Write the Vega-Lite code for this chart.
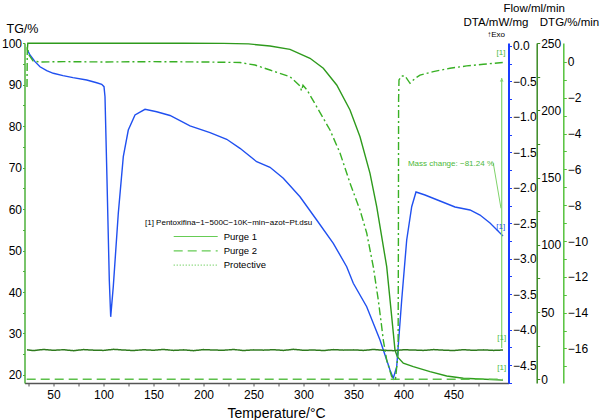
{
"$schema": "https://vega.github.io/schema/vega-lite/v6.json",
"width": 484,
"height": 340,
"autosize": {"type": "none"},
"padding": {"left": 24.5, "top": 43, "right": 91.5, "bottom": 37},
"background": "white",
"config": {
  "view": {"stroke": null},
  "font": "Liberation Sans",
  "axis": {"labelFont": "Liberation Sans", "labelFontSize": 12, "labelColor": "#000", "titleFont": "Liberation Sans", "titleFontSize": 11.5, "titleFontWeight": "normal", "titleColor": "#000", "grid": false, "labelOverlap": false, "tickSize": 3, "labelPadding": 1, "domainWidth": 1.5, "labelFlush": false}
},
"datasets": {
  "tg": [
    {"T": 23.8, "TG": 98.4}, {"T": 24.3, "TG": 100}, {"T": 60, "TG": 100}, {"T": 120, "TG": 100}, {"T": 180, "TG": 100}, {"T": 220, "TG": 99.98}, {"T": 245, "TG": 99.85},
    {"T": 266.5, "TG": 99.35}, {"T": 286.5, "TG": 98.55}, {"T": 306.5, "TG": 96.38}, {"T": 319.8, "TG": 93.97}, {"T": 333.2, "TG": 89.94}, {"T": 346.5, "TG": 83.91},
    {"T": 356.5, "TG": 77.47}, {"T": 366.5, "TG": 68.64}, {"T": 373.2, "TG": 60.59}, {"T": 378.2, "TG": 53.35}, {"T": 383.2, "TG": 46.12}, {"T": 388.2, "TG": 34.06},
    {"T": 391.5, "TG": 26.02}, {"T": 393.8, "TG": 24.41}, {"T": 399.8, "TG": 22.82}, {"T": 409.8, "TG": 22.0}, {"T": 426.5, "TG": 20.79}, {"T": 443.2, "TG": 19.75},
    {"T": 459.8, "TG": 19.2}, {"T": 476.5, "TG": 19.03}, {"T": 499.5, "TG": 18.76}
  ],
  "dta": [
    {"T": 23.8, "DTA": -0.056}, {"T": 26.5, "DTA": -0.127}, {"T": 31.5, "DTA": -0.221}, {"T": 36.5, "DTA": -0.293}, {"T": 43.2, "DTA": -0.348}, {"T": 49.8, "DTA": -0.385},
    {"T": 59.5, "DTA": -0.419}, {"T": 69.5, "DTA": -0.447}, {"T": 83.2, "DTA": -0.48}, {"T": 93.2, "DTA": -0.518}, {"T": 98.2, "DTA": -0.54}, {"T": 100.5, "DTA": -0.574},
    {"T": 101.5, "DTA": -0.715}, {"T": 103.5, "DTA": -1.89}, {"T": 105.8, "DTA": -3.3}, {"T": 107.2, "DTA": -3.82}, {"T": 109.8, "DTA": -3.39}, {"T": 114.8, "DTA": -2.36},
    {"T": 119.8, "DTA": -1.56}, {"T": 124.8, "DTA": -1.185}, {"T": 131.5, "DTA": -0.973}, {"T": 141.5, "DTA": -0.893}, {"T": 153.2, "DTA": -0.927}, {"T": 166.5, "DTA": -0.98},
    {"T": 186.5, "DTA": -1.128}, {"T": 206.5, "DTA": -1.223}, {"T": 223.2, "DTA": -1.316}, {"T": 236.5, "DTA": -1.443}, {"T": 253.2, "DTA": -1.632}, {"T": 266.5, "DTA": -1.711},
    {"T": 279.8, "DTA": -1.866}, {"T": 296.5, "DTA": -2.126}, {"T": 313.2, "DTA": -2.454}, {"T": 329.8, "DTA": -2.783}, {"T": 343.2, "DTA": -3.113}, {"T": 349.8, "DTA": -3.347},
    {"T": 363.2, "DTA": -3.677}, {"T": 376.5, "DTA": -4.147}, {"T": 386.5, "DTA": -4.57}, {"T": 389.8, "DTA": -4.687}, {"T": 393.2, "DTA": -4.523}, {"T": 398.2, "DTA": -3.583},
    {"T": 403.2, "DTA": -2.736}, {"T": 408.2, "DTA": -2.267}, {"T": 412.5, "DTA": -2.059}, {"T": 421.5, "DTA": -2.102}, {"T": 436.5, "DTA": -2.186}, {"T": 451.5, "DTA": -2.271},
    {"T": 466.5, "DTA": -2.313}, {"T": 476.5, "DTA": -2.384}, {"T": 486.5, "DTA": -2.496}, {"T": 499.5, "DTA": -2.68}
  ],
  "dtg": [
    {"T": 23.5, "DTG": -1.4}, {"T": 23.8, "DTG": 0.84}, {"T": 25.5, "DTG": 0.39}, {"T": 29.5, "DTG": 0.06}, {"T": 36.5, "DTG": 0.0}, {"T": 60, "DTG": 0.02}, {"T": 100, "DTG": 0.0},
    {"T": 150, "DTG": 0.02}, {"T": 200, "DTG": 0.0}, {"T": 236.5, "DTG": -0.03}, {"T": 251.5, "DTG": -0.17}, {"T": 266.5, "DTG": -0.45}, {"T": 286.5, "DTG": -0.82},
    {"T": 296.5, "DTG": -1.34}, {"T": 298, "DTG": -1.6}, {"T": 299.5, "DTG": -1.3}, {"T": 303.5, "DTG": -1.56}, {"T": 313.2, "DTG": -2.5}, {"T": 326.5, "DTG": -3.8},
    {"T": 336.5, "DTG": -5.08}, {"T": 346.5, "DTG": -6.76}, {"T": 356.5, "DTG": -8.27}, {"T": 363.2, "DTG": -9.55}, {"T": 369.8, "DTG": -11.44}, {"T": 374.8, "DTG": -13.3},
    {"T": 378.2, "DTG": -14.79}, {"T": 379.8, "DTG": -15.53}, {"T": 383.2, "DTG": -16.65}, {"T": 388.2, "DTG": -17.58}, {"T": 392, "DTG": -17.7}, {"T": 394.6, "DTG": -16.3},
    {"T": 394.9, "DTG": -9.9}, {"T": 395.1, "DTG": -2.1}, {"T": 395.5, "DTG": -1.0}, {"T": 398.2, "DTG": -0.78}, {"T": 401.5, "DTG": -0.78}, {"T": 406.5, "DTG": -1.19},
    {"T": 411.5, "DTG": -0.92}, {"T": 416.5, "DTG": -0.73}, {"T": 429.8, "DTG": -0.54}, {"T": 446.5, "DTG": -0.35}, {"T": 463.2, "DTG": -0.22}, {"T": 479.8, "DTG": -0.13},
    {"T": 496.5, "DTG": -0.04}, {"T": 499.5, "DTG": -0.03}
  ],
  "flow": [
    {"T": 23.5, "flow": 21.9, "gas": "Purge 1"}, {"T": 30, "flow": 21.4, "gas": "Purge 1"}, {"T": 40, "flow": 22.2, "gas": "Purge 1"}, {"T": 50, "flow": 21.6, "gas": "Purge 1"},
    {"T": 60, "flow": 22.0, "gas": "Purge 1"}, {"T": 70, "flow": 21.3, "gas": "Purge 1"}, {"T": 80, "flow": 22.1, "gas": "Purge 1"}, {"T": 90, "flow": 21.7, "gas": "Purge 1"},
    {"T": 100, "flow": 21.5, "gas": "Purge 1"}, {"T": 110, "flow": 22.3, "gas": "Purge 1"}, {"T": 120, "flow": 21.8, "gas": "Purge 1"}, {"T": 130, "flow": 21.4, "gas": "Purge 1"},
    {"T": 140, "flow": 22.0, "gas": "Purge 1"}, {"T": 150, "flow": 21.6, "gas": "Purge 1"}, {"T": 160, "flow": 22.2, "gas": "Purge 1"}, {"T": 170, "flow": 21.5, "gas": "Purge 1"},
    {"T": 180, "flow": 21.9, "gas": "Purge 1"}, {"T": 190, "flow": 21.3, "gas": "Purge 1"}, {"T": 200, "flow": 22.1, "gas": "Purge 1"}, {"T": 210, "flow": 21.8, "gas": "Purge 1"},
    {"T": 220, "flow": 21.6, "gas": "Purge 1"}, {"T": 230, "flow": 22.2, "gas": "Purge 1"}, {"T": 240, "flow": 21.4, "gas": "Purge 1"}, {"T": 250, "flow": 21.9, "gas": "Purge 1"},
    {"T": 260, "flow": 21.7, "gas": "Purge 1"}, {"T": 270, "flow": 22.0, "gas": "Purge 1"}, {"T": 280, "flow": 21.5, "gas": "Purge 1"}, {"T": 290, "flow": 22.3, "gas": "Purge 1"},
    {"T": 300, "flow": 21.6, "gas": "Purge 1"}, {"T": 310, "flow": 21.8, "gas": "Purge 1"}, {"T": 320, "flow": 21.4, "gas": "Purge 1"}, {"T": 330, "flow": 22.1, "gas": "Purge 1"},
    {"T": 340, "flow": 21.7, "gas": "Purge 1"}, {"T": 350, "flow": 21.9, "gas": "Purge 1"}, {"T": 360, "flow": 21.5, "gas": "Purge 1"}, {"T": 370, "flow": 22.2, "gas": "Purge 1"},
    {"T": 380, "flow": 21.6, "gas": "Purge 1"}, {"T": 390, "flow": 21.3, "gas": "Purge 1"}, {"T": 400, "flow": 22.0, "gas": "Purge 1"}, {"T": 410, "flow": 21.8, "gas": "Purge 1"},
    {"T": 420, "flow": 21.5, "gas": "Purge 1"}, {"T": 430, "flow": 22.1, "gas": "Purge 1"}, {"T": 440, "flow": 21.7, "gas": "Purge 1"}, {"T": 450, "flow": 21.4, "gas": "Purge 1"},
    {"T": 460, "flow": 22.0, "gas": "Purge 1"}, {"T": 470, "flow": 21.6, "gas": "Purge 1"}, {"T": 480, "flow": 21.9, "gas": "Purge 1"}, {"T": 490, "flow": 21.5, "gas": "Purge 1"},
    {"T": 499.5, "flow": 21.8, "gas": "Purge 1"},
    {"T": 23.2, "flow": 0, "gas": "Purge 2"}, {"T": 499.5, "flow": 0, "gas": "Purge 2"}
  ]
},
"layer": [
  {
    "data": {"name": "tg"},
    "mark": {"type": "line", "color": "#2e9a1c", "strokeWidth": 1.4},
    "encoding": {
      "x": {"field": "T", "type": "quantitative", "scale": {"domain": [21, 505], "nice": false, "zero": false},
            "axis": {"title": "Temperature/°C", "titleFontSize": 14, "titleX": 251.5, "titleY": 34, "titleAlign": "center", "titleBaseline": "alphabetic", "values": [25,50,75,100,125,150,175,200,225,250,275,300,325,350,375,400,425,450,475], "labelExpr": "datum.value % 50 === 0 ? datum.label : ''", "labelPadding": 3, "domainColor": "#555", "tickColor": "#555"}},
      "y": {"field": "TG", "type": "quantitative", "scale": {"domain": [18.06, 100.07], "nice": false, "zero": false},
            "axis": {"orient": "left", "title": "TG/%", "titleFontSize": 12.5, "titleAngle": 0, "titleAlign": "left", "titleBaseline": "alphabetic", "titleX": -18.5, "titleY": -11,
                     "values": [20,25,30,35,40,45,50,55,60,65,70,75,80,85,90,95,100],
                     "labelExpr": "datum.value % 10 === 0 ? datum.label : ''", "tickSize": 2, "domainColor": "#4cb03a", "tickColor": "#4cb03a"}}
    }
  },
  {
    "data": {"name": "dta"},
    "mark": {"type": "line", "color": "#2050f0", "strokeWidth": 1.4},
    "encoding": {
      "x": {"field": "T", "type": "quantitative", "scale": {"domain": [21, 505], "nice": false, "zero": false},
            "axis": {"title": "Temperature/°C", "titleFontSize": 14, "titleX": 251.5, "titleY": 34, "titleAlign": "center", "titleBaseline": "alphabetic", "values": [25,50,75,100,125,150,175,200,225,250,275,300,325,350,375,400,425,450,475], "labelExpr": "datum.value % 50 === 0 ? datum.label : ''", "labelPadding": 3, "domainColor": "#555", "tickColor": "#555"}},
      "y": {"field": "DTA", "type": "quantitative", "scale": {"domain": [-4.753, 0.042], "nice": false, "zero": false},
            "axis": {"orient": "right", "offset": 0, "title": "DTA/mW/mg", "titleAngle": 0, "titleAlign": "left", "titleBaseline": "alphabetic", "titleX": -45.5, "titleY": -18,
                     "values": [0,-0.25,-0.5,-0.75,-1,-1.25,-1.5,-1.75,-2,-2.25,-2.5,-2.75,-3,-3.25,-3.5,-3.75,-4,-4.25,-4.5,-4.75],
                     "labelExpr": "abs(datum.value * 2 - round(datum.value * 2)) < 0.001 ? format(datum.value, '.1f') : ''",
                     "domainColor": "#1a3cff", "tickColor": "#1a3cff", "domainWidth": 2}}
    }
  },
  {
    "data": {"name": "flow"},
    "mark": {"type": "line", "strokeWidth": 1.5},
    "encoding": {
      "x": {"field": "T", "type": "quantitative", "scale": {"domain": [21, 505], "nice": false, "zero": false},
            "axis": {"title": "Temperature/°C", "titleFontSize": 14, "titleX": 251.5, "titleY": 34, "titleAlign": "center", "titleBaseline": "alphabetic", "values": [25,50,75,100,125,150,175,200,225,250,275,300,325,350,375,400,425,450,475], "labelExpr": "datum.value % 50 === 0 ? datum.label : ''", "labelPadding": 3, "domainColor": "#555", "tickColor": "#555"}},
      "y": {"field": "flow", "type": "quantitative", "scale": {"domain": [-2.75, 250.2], "nice": false, "zero": false},
            "axis": {"orient": "right", "offset": 28.2, "title": "Flow/ml/min", "titleAngle": 0, "titleAlign": "left", "titleBaseline": "alphabetic", "titleX": -33.7, "titleY": -32,
                     "values": [0,25,50,75,100,125,150,175,200,225,250],
                     "labelExpr": "datum.value % 50 === 0 ? datum.label : ''",
                     "domainColor": "#3a8a22", "tickColor": "#3a8a22"}},
      "color": {"condition": {"test": "datum.gas === 'Purge 1'", "value": "#2f7a1e"}, "value": "#5cc04a"},
      "strokeDash": {"field": "gas", "type": "nominal", "scale": {"domain": ["Purge 1", "Purge 2", "Protective"], "range": [[1, 0], [9, 5], [1, 2]]},
                     "legend": {"title": null, "orient": "none", "legendX": 164.7, "legendY": 187, "symbolType": "M-4,0H4", "symbolSize": 121,
                                "symbolStrokeColor": "#66cc55", "symbolStrokeWidth": 1.2, "labelFontSize": 9.5, "labelFont": "Liberation Sans", "labelColor": "#000",
                                "labelOffset": 21.5, "rowPadding": 3.3, "padding": 0,
                                "encode": {"symbols": {"update": {"stroke": {"value": "#66cc55"}}}}}}
    }
  },
  {
    "data": {"name": "dtg"},
    "mark": {"type": "line", "color": "#38b024", "strokeWidth": 1.4, "strokeDash": [8, 3, 2, 3]},
    "encoding": {
      "x": {"field": "T", "type": "quantitative", "scale": {"domain": [21, 505], "nice": false, "zero": false},
            "axis": {"title": "Temperature/°C", "titleFontSize": 14, "titleX": 251.5, "titleY": 34, "titleAlign": "center", "titleBaseline": "alphabetic", "values": [25,50,75,100,125,150,175,200,225,250,275,300,325,350,375,400,425,450,475], "labelExpr": "datum.value % 50 === 0 ? datum.label : ''", "labelPadding": 3, "domainColor": "#555", "tickColor": "#555"}},
      "y": {"field": "DTG", "type": "quantitative", "scale": {"domain": [-17.93, 1.06], "nice": false, "zero": false},
            "axis": {"orient": "right", "offset": 54.8, "title": "DTG/%/min", "titleAngle": 0, "titleAlign": "left", "titleBaseline": "alphabetic", "titleX": -24, "titleY": -18,
                     "values": [0,-1,-2,-3,-4,-5,-6,-7,-8,-9,-10,-11,-12,-13,-14,-15,-16,-17],
                     "labelExpr": "datum.value % 2 === 0 ? datum.label : ''",
                     "domainColor": "#55c23c", "tickColor": "#55c23c"}}
    }
  },
  {
    "data": {"values": [{}]},
    "mark": {"type": "rule", "color": "#7fd36a", "strokeWidth": 1.2},
    "encoding": {
      "x": {"datum": 498.2, "type": "quantitative", "scale": {"domain": [21, 505], "nice": false, "zero": false},
            "axis": {"title": "Temperature/°C", "titleFontSize": 14, "titleX": 251.5, "titleY": 34, "titleAlign": "center", "titleBaseline": "alphabetic", "values": [25,50,75,100,125,150,175,200,225,250,275,300,325,350,375,400,425,450,475], "labelExpr": "datum.value % 50 === 0 ? datum.label : ''", "labelPadding": 3, "domainColor": "#555", "tickColor": "#555"}},
      "y": {"datum": 91.6, "type": "quantitative", "scale": {"domain": [18.06, 100.07], "nice": false, "zero": false}, "axis": null},
      "y2": {"datum": 26.5}
    }
  },
  {
    "data": {"values": [{}]},
    "mark": {"type": "point", "shape": "triangle-up", "size": 14, "filled": true, "color": "#7fd36a", "opacity": 1},
    "encoding": {
      "x": {"datum": 498.2, "type": "quantitative", "scale": {"domain": [21, 505], "nice": false, "zero": false},
            "axis": {"title": "Temperature/°C", "titleFontSize": 14, "titleX": 251.5, "titleY": 34, "titleAlign": "center", "titleBaseline": "alphabetic", "values": [25,50,75,100,125,150,175,200,225,250,275,300,325,350,375,400,425,450,475], "labelExpr": "datum.value % 50 === 0 ? datum.label : ''", "labelPadding": 3, "domainColor": "#555", "tickColor": "#555"}},
      "y": {"datum": 91.2, "type": "quantitative", "scale": {"domain": [18.06, 100.07], "nice": false, "zero": false}, "axis": null}
    }
  },
  {
    "data": {"values": [{}]},
    "mark": {"type": "rule", "color": "#7fd36a", "strokeWidth": 1},
    "encoding": {
      "x": {"datum": 489.8, "type": "quantitative", "scale": {"domain": [21, 505], "nice": false, "zero": false},
            "axis": {"title": "Temperature/°C", "titleFontSize": 14, "titleX": 251.5, "titleY": 34, "titleAlign": "center", "titleBaseline": "alphabetic", "values": [25,50,75,100,125,150,175,200,225,250,275,300,325,350,375,400,425,450,475], "labelExpr": "datum.value % 50 === 0 ? datum.label : ''", "labelPadding": 3, "domainColor": "#555", "tickColor": "#555"}},
      "y": {"datum": 71.06, "type": "quantitative", "scale": {"domain": [18.06, 100.07], "nice": false, "zero": false}, "axis": null},
      "x2": {"datum": 497.5},
      "y2": {"datum": 60.2}
    }
  },
  {
    "data": {"values": [{}]},
    "mark": {"type": "text", "text": "Mass change: −81.24 %", "align": "right", "baseline": "middle", "fontSize": 8, "color": "#4cb83a"},
    "encoding": {
      "x": {"datum": 490.5, "type": "quantitative", "scale": {"domain": [21, 505], "nice": false, "zero": false},
            "axis": {"title": "Temperature/°C", "titleFontSize": 14, "titleX": 251.5, "titleY": 34, "titleAlign": "center", "titleBaseline": "alphabetic", "values": [25,50,75,100,125,150,175,200,225,250,275,300,325,350,375,400,425,450,475], "labelExpr": "datum.value % 50 === 0 ? datum.label : ''", "labelPadding": 3, "domainColor": "#555", "tickColor": "#555"}},
      "y": {"datum": 70.9, "type": "quantitative", "scale": {"domain": [18.06, 100.07], "nice": false, "zero": false}, "axis": null}
    }
  },
  {
    "data": {"values": [{}]},
    "mark": {"type": "text", "text": "[1] Pentoxifina−1−500C−10K−min−azot−Pt.dsu", "align": "left", "baseline": "middle", "fontSize": 8, "color": "#000"},
    "encoding": {
      "x": {"datum": 141.5, "type": "quantitative", "scale": {"domain": [21, 505], "nice": false, "zero": false},
            "axis": {"title": "Temperature/°C", "titleFontSize": 14, "titleX": 251.5, "titleY": 34, "titleAlign": "center", "titleBaseline": "alphabetic", "values": [25,50,75,100,125,150,175,200,225,250,275,300,325,350,375,400,425,450,475], "labelExpr": "datum.value % 50 === 0 ? datum.label : ''", "labelPadding": 3, "domainColor": "#555", "tickColor": "#555"}},
      "y": {"datum": 56.73, "type": "quantitative", "scale": {"domain": [18.06, 100.07], "nice": false, "zero": false}, "axis": null}
    }
  },
  {
    "data": {"values": [{}]},
    "mark": {"type": "text", "text": "↑Exo", "align": "right", "baseline": "middle", "fontSize": 8, "color": "#000"},
    "encoding": {
      "x": {"datum": 501.5, "type": "quantitative", "scale": {"domain": [21, 505], "nice": false, "zero": false},
            "axis": {"title": "Temperature/°C", "titleFontSize": 14, "titleX": 251.5, "titleY": 34, "titleAlign": "center", "titleBaseline": "alphabetic", "values": [25,50,75,100,125,150,175,200,225,250,275,300,325,350,375,400,425,450,475], "labelExpr": "datum.value % 50 === 0 ? datum.label : ''", "labelPadding": 3, "domainColor": "#555", "tickColor": "#555"}},
      "y": {"datum": 102.0, "type": "quantitative", "scale": {"domain": [18.06, 100.07], "nice": false, "zero": false}, "axis": null}
    }
  },
  {
    "data": {"values": [{}]},
    "mark": {"type": "text", "text": "[1]", "align": "center", "baseline": "middle", "fontSize": 8, "color": "#4cb83a"},
    "encoding": {
      "x": {"datum": 497.5, "type": "quantitative", "scale": {"domain": [21, 505], "nice": false, "zero": false},
            "axis": {"title": "Temperature/°C", "titleFontSize": 14, "titleX": 251.5, "titleY": 34, "titleAlign": "center", "titleBaseline": "alphabetic", "values": [25,50,75,100,125,150,175,200,225,250,275,300,325,350,375,400,425,450,475], "labelExpr": "datum.value % 50 === 0 ? datum.label : ''", "labelPadding": 3, "domainColor": "#555", "tickColor": "#555"}},
      "y": {"datum": 97.59, "type": "quantitative", "scale": {"domain": [18.06, 100.07], "nice": false, "zero": false}, "axis": null}
    }
  },
  {
    "data": {"values": [{}]},
    "mark": {"type": "text", "text": "[1]", "align": "center", "baseline": "middle", "fontSize": 8, "color": "#4cb83a"},
    "encoding": {
      "x": {"datum": 498.2, "type": "quantitative", "scale": {"domain": [21, 505], "nice": false, "zero": false},
            "axis": {"title": "Temperature/°C", "titleFontSize": 14, "titleX": 251.5, "titleY": 34, "titleAlign": "center", "titleBaseline": "alphabetic", "values": [25,50,75,100,125,150,175,200,225,250,275,300,325,350,375,400,425,450,475], "labelExpr": "datum.value % 50 === 0 ? datum.label : ''", "labelPadding": 3, "domainColor": "#555", "tickColor": "#555"}},
      "y": {"datum": 28.85, "type": "quantitative", "scale": {"domain": [18.06, 100.07], "nice": false, "zero": false}, "axis": null}
    }
  },
  {
    "data": {"values": [{}]},
    "mark": {"type": "text", "text": "[1]", "align": "center", "baseline": "middle", "fontSize": 8, "color": "#4cb83a"},
    "encoding": {
      "x": {"datum": 498.2, "type": "quantitative", "scale": {"domain": [21, 505], "nice": false, "zero": false},
            "axis": {"title": "Temperature/°C", "titleFontSize": 14, "titleX": 251.5, "titleY": 34, "titleAlign": "center", "titleBaseline": "alphabetic", "values": [25,50,75,100,125,150,175,200,225,250,275,300,325,350,375,400,425,450,475], "labelExpr": "datum.value % 50 === 0 ? datum.label : ''", "labelPadding": 3, "domainColor": "#555", "tickColor": "#555"}},
      "y": {"datum": 21.61, "type": "quantitative", "scale": {"domain": [18.06, 100.07], "nice": false, "zero": false}, "axis": null}
    }
  },
  {
    "data": {"values": [{}]},
    "mark": {"type": "text", "text": "[1]", "align": "center", "baseline": "middle", "fontSize": 8, "color": "#2050f0"},
    "encoding": {
      "x": {"datum": 497.2, "type": "quantitative", "scale": {"domain": [21, 505], "nice": false, "zero": false},
            "axis": {"title": "Temperature/°C", "titleFontSize": 14, "titleX": 251.5, "titleY": 34, "titleAlign": "center", "titleBaseline": "alphabetic", "values": [25,50,75,100,125,150,175,200,225,250,275,300,325,350,375,400,425,450,475], "labelExpr": "datum.value % 50 === 0 ? datum.label : ''", "labelPadding": 3, "domainColor": "#555", "tickColor": "#555"}},
      "y": {"datum": 55.77, "type": "quantitative", "scale": {"domain": [18.06, 100.07], "nice": false, "zero": false}, "axis": null}
    }
  }
],
"resolve": {"scale": {"y": "independent"}, "axis": {"y": "independent"}}
}
